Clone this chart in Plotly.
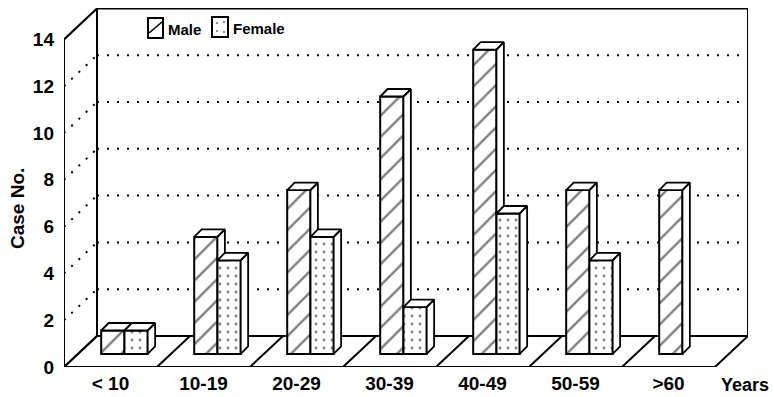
import plotly.graph_objects as go

# ---- data ----
categories = ["< 10", "10-19", "20-29", "30-39", "40-49", "50-59", ">60"]
male = [1, 5, 7, 11, 13, 7, 7]
female = [1, 4, 5, 2, 6, 4, 0]
y_ticks = [0, 2, 4, 6, 8, 10, 12, 14]
series_names = ["Male", "Female"]

# ---- pseudo-3D geometry (in axis units) ----
DX, DY = 0.355, 1.325      # full depth of floor / walls
BX, BY = 0.15, 0.56        # depth at which bar fronts sit
TDX, TDY = 0.08, 0.32      # bar depth
BW = 0.25                  # bar width
YMAX = 14
n = len(categories)

# plot area in pixels (for paper-coordinate helpers)
PL, PR, PT, PB = 64, 748, 8, 367


def px(x):
    return (x - PL) / (PR - PL)


def py(y):
    return (PB - y) / (PB - PT)


FONT = "Liberation Sans, Arial, sans-serif"
fig = go.Figure()

male_x = [i + 0.5 + BX - BW / 2 for i in range(n)]
fem_idx = [i for i in range(n) if female[i] > 0]
fem_x = [i + 0.5 + BX + BW / 2 for i in fem_idx]

fig.add_trace(go.Bar(
    name=series_names[0], x=male_x, y=male, base=BY, width=BW,
    marker=dict(color="white", line=dict(color="black", width=2),
                pattern=dict(shape="/", fgcolor="black", bgcolor="white", size=15, solidity=0.16)),
))
fig.add_trace(go.Bar(
    name=series_names[1], x=fem_x, y=[female[i] for i in fem_idx], base=BY, width=BW,
    marker=dict(color="white", line=dict(color="black", width=2),
                pattern=dict(shape=".", fgcolor="black", bgcolor="white", size=8, solidity=0.1)),
))


def faces(xc, v, clip=None):
    xl = xc - BW / 2
    xr = xc + BW / 2
    top = BY + v
    xs, ys = [], []
    # top face
    xs += [xl, xr, xr + TDX, xl + TDX, xl, None]
    ys += [top, top, top + TDY, top + TDY, top, None]
    lo_l, lo_r = BY, BY + TDY
    if clip is not None:
        if clip >= top:
            return xs, ys
        lo_l, lo_r = max(BY, clip), max(BY + TDY, clip)
    xs += [xr, xr, xr + TDX, xr + TDX, xr, None]
    ys += [lo_l, top, top + TDY, lo_r, lo_l, None]
    return xs, ys


mx, my = [], []
for i in range(n):
    clip = BY + female[i] if female[i] > 0 else None
    a, b = faces(male_x[i], male[i], clip)
    mx += a
    my += b
fx, fy = [], []
for k, i in enumerate(fem_idx):
    a, b = faces(fem_x[k], female[i])
    fx += a
    fy += b

for xs, ys in ((mx, my), (fx, fy)):
    fig.add_trace(go.Scatter(x=xs, y=ys, mode="lines", fill="toself", fillcolor="white",
                             line=dict(color="black", width=1.8), showlegend=False,
                             hoverinfo="skip"))

# ---- frame: walls, floor, gridlines ----
shapes = []
L = dict(color="black", width=2)
D = dict(color="black", width=2, dash="2px,8px")
for v in y_ticks[1:-1]:
    shapes.append(dict(type="line", x0=DX, x1=n + DX, y0=v + DY, y1=v + DY, line=D, layer="below"))
    shapes.append(dict(type="line", x0=0, x1=DX, y0=v, y1=v + DY, line=D, layer="below"))
shapes.append(dict(type="rect", x0=DX, x1=n + DX, y0=DY, y1=YMAX + DY, line=L, layer="below"))
shapes.append(dict(type="path", path=f"M 0,0 L 0,{YMAX} L {DX},{YMAX + DY} L {DX},{DY} Z",
                   line=L, layer="below"))
shapes.append(dict(type="path", path=f"M 0,0 L {n},0 L {n + DX},{DY} L {DX},{DY} Z",
                   line=L, layer="below"))
for i in range(1, n):
    shapes.append(dict(type="line", x0=i, x1=i + DX, y0=0, y1=DY, line=L, layer="below"))

# ---- legend (drawn as keys in paper coordinates) ----
K = dict(color="black", width=2)
shapes.append(dict(type="rect", xref="paper", yref="paper", x0=px(148), x1=px(163),
                   y0=py(38), y1=py(18), line=K, fillcolor="white"))
shapes.append(dict(type="line", xref="paper", yref="paper", x0=px(149), x1=px(162),
                   y0=py(33), y1=py(22), line=dict(color="black", width=1.6)))
shapes.append(dict(type="rect", xref="paper", yref="paper", x0=px(212), x1=px(228),
                   y0=py(37), y1=py(17), line=K, fillcolor="white"))
for dxp, dyp in ((217, 23), (224, 22), (217, 31), (224, 32)):
    shapes.append(dict(type="circle", xref="paper", yref="paper",
                       x0=px(dxp - 0.8), x1=px(dxp + 0.8), y0=py(dyp + 0.8), y1=py(dyp - 0.8),
                       line=dict(width=0), fillcolor="black"))

annotations = [
    dict(text="Case No.", xref="paper", yref="paper", x=px(17), y=py(209), textangle=-90,
         xanchor="center", yanchor="middle", showarrow=False, font=dict(size=19, weight="bold")),
    dict(text="Years", xref="paper", yref="paper", x=px(771), y=py(385), xanchor="right",
         yanchor="middle", showarrow=False, font=dict(size=18, weight="bold")),
    dict(text=series_names[0], xref="paper", yref="paper", x=px(166), y=py(29), xanchor="left",
         yanchor="middle", showarrow=False, font=dict(size=15, weight="bold")),
    dict(text=series_names[1], xref="paper", yref="paper", x=px(231), y=py(28), xanchor="left",
         yanchor="middle", showarrow=False, font=dict(size=15, weight="bold")),
]

fig.update_layout(
    width=774, height=397,
    margin=dict(l=PL, r=774 - PR, t=PT, b=397 - PB, pad=0, autoexpand=False),
    paper_bgcolor="white", plot_bgcolor="white",
    barmode="overlay",
    shapes=shapes,
    annotations=annotations,
    font=dict(family=FONT, color="black"),
    showlegend=False,
    xaxis=dict(range=[0, n + DX], showgrid=False, zeroline=False, showline=False,
               tickmode="array", tickvals=[i + 0.5 for i in range(n)], ticktext=categories,
               tickfont=dict(size=19, weight="bold"), ticks="", ticklabelstandoff=3, fixedrange=True),
    yaxis=dict(range=[0, (PB - PT) / 23.4], showgrid=False, zeroline=False, showline=False,
               tickmode="array", tickvals=y_ticks, ticktext=[str(v) for v in y_ticks],
               tickfont=dict(size=19, weight="bold"), ticks="", ticklabelstandoff=9, fixedrange=True),
)

fig.write_html("out.html", config={"displayModeBar": False},
               post_script="document.body.style.margin='0';document.body.style.overflow='hidden';")
